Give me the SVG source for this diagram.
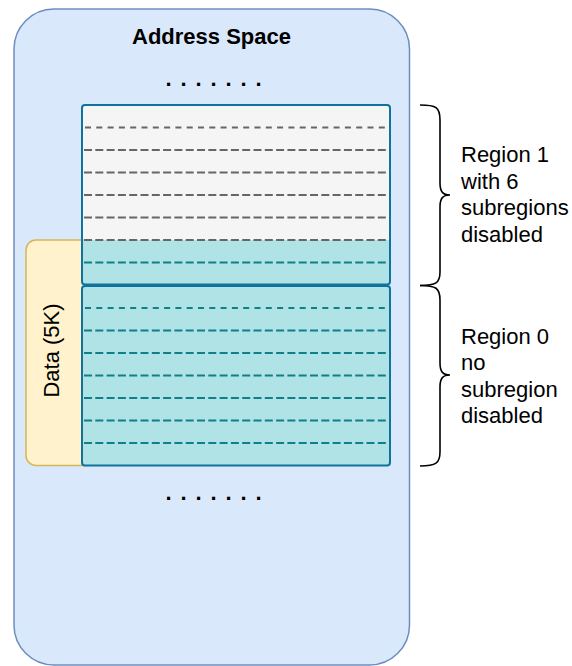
<svg xmlns="http://www.w3.org/2000/svg" width="572" height="666" viewBox="0 0 572 666">
<style>
text{font-family:"Liberation Sans",Arial,sans-serif;font-size:22px;fill:#000}
.bold{font-weight:bold}
.reg{stroke:#10739e;stroke-width:2;fill:none}
.gl{stroke:#666666;stroke-width:2;fill:none}
.tl{stroke:#0e8088;stroke-width:2;fill:none}
.d1{stroke-dasharray:6 5.3}
.d2{stroke-dasharray:8 3.3}
.brace{stroke:#000;stroke-width:1.6;fill:none}
</style>
<g id="address-space">
<rect x="14" y="9" width="395.5" height="656" rx="40" ry="40" fill="#dae8fc" stroke="#6c8ebf" stroke-width="1.5"/>
<text class="bold" x="211.5" y="44" text-anchor="middle">Address Space</text>
<text class="bold" x="165.5" y="86" letter-spacing="8.9">.......</text>
<text class="bold" x="165.5" y="500" letter-spacing="8.9">.......</text>
</g>
<g id="data">
<rect x="26" y="240" width="70" height="225.5" rx="10" ry="10" fill="#fff2cc" stroke="#d6b656" stroke-width="1.5"/>
<text x="58.5" y="350.5" text-anchor="middle" transform="rotate(-90 58.5 350.5)">Data (5K)</text>
</g>
<g id="region1">
<rect x="82" y="105" width="308" height="135" rx="3" fill="#f5f5f5"/>
<rect x="82" y="240" width="308" height="44.5" fill="#b0e3e6"/>
<path class="gl d1" d="M85,127.5H388"/>
<path class="gl d2" d="M84,150H388M84,172.5H388M84,195H388M84,217.5H388M84,240H388"/>
<path class="tl d2" d="M84,262.5H388"/>
<rect class="reg" x="82" y="105" width="308" height="179.5" rx="3"/>
</g>
<g id="region0">
<rect x="82" y="286" width="308" height="179.5" rx="3" fill="#b0e3e6"/>
<path class="tl d1" d="M85,308H388"/>
<path class="tl d2" d="M84,330.5H388M84,353H388M84,375.5H388M84,398H388M84,420.5H388M84,443H388"/>
<rect class="reg" x="82" y="286" width="308" height="179.5" rx="3"/>
</g>
<g id="connectors">
<path class="brace" d="M420,105 C436,105 440,107 440,120 L440,183 C440,192 443,195 450,195 C443,195 440,198 440,207 L440,272 C440,283 436,285.5 420,285.5"/>
<path class="brace" d="M420,285.5 C436,285.5 440,288 440,300 L440,363 C440,372 443,375 450,375 C443,375 440,378 440,387 L440,452 C440,463 436,466 420,466"/>
</g>
<g id="label-region1">
<text x="461" y="162">Region 1</text>
<text x="461" y="188.5">with 6</text>
<text x="461" y="215">subregions</text>
<text x="461" y="241.5">disabled</text>
</g>
<g id="label-region0">
<text x="461" y="343.5">Region 0</text>
<text x="461" y="370">no</text>
<text x="461" y="396.5">subregion</text>
<text x="461" y="423">disabled</text>
</g>
</svg>
